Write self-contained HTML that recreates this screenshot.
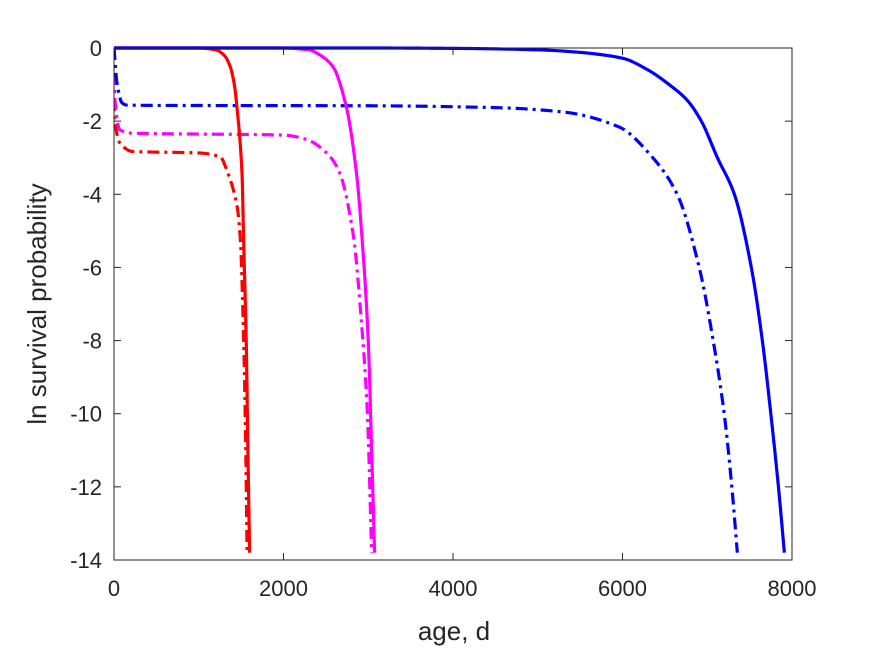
<!DOCTYPE html>
<html><head><meta charset="utf-8"><style>
body{margin:0;background:#fff;}
svg{display:block;font-family:"Liberation Sans",Arial,sans-serif;}
</style></head><body>
<svg id="chart" width="875" height="656" viewBox="0 0 875 656">
<defs><clipPath id="plotclip"><rect x="114" y="46" width="680" height="516"/></clipPath></defs>
<g id="grid"></g>
<g id="series" clip-path="url(#plotclip)"></g>
<g id="axes"></g>
</svg>
<script>
const xTicks=[0,2000,4000,6000,8000];
const yTicks=[0,-2,-4,-6,-8,-10,-12,-14];
const blueSolidAge=[0,1000,2000,3000,4000,5000,5500,6000,6300,6550,6760,6930,7120,7320,7520,7650,7750,7840,7910];
const blueSolidVal=[0,0,0,0,-0.01,-0.05,-0.12,-0.28,-0.6,-1.0,-1.42,-2,-3,-4,-6,-8,-10,-12,-13.8];
const blueDashAge=[0,35,95,150,500,3000,4500,5300,5960,6350,6645,6905,7070,7200,7290,7355];
const blueDashVal=[0,-0.95,-1.5,-1.56,-1.57,-1.58,-1.63,-1.75,-2.16,-2.98,-4,-6,-8,-10,-12,-13.8];
const redSolidAge=[0,1000,1200,1300,1370,1420,1450,1510,1530,1560,1580,1600];
const redSolidVal=[0,0,-0.05,-0.2,-0.5,-1.0,-1.6,-3.4,-5.3,-8,-11,-13.8];
const redDashAge=[0,10,70,220,1000,1250,1340,1450,1490,1530,1555,1570];
const redDashVal=[-1.4,-2.0,-2.6,-2.83,-2.87,-2.97,-3.4,-4.3,-5.2,-8,-11,-13.8];
const magSolidAge=[0,2000,2300,2400,2580,2740,2860,2930,3000,3040,3075];
const magSolidVal=[0,0,-0.05,-0.15,-0.5,-1.6,-3.4,-5.3,-8,-11,-13.8];
const magDashAge=[0,10,70,220,1990,2270,2510,2660,2820,2920,2990,3040];
const magDashVal=[0,-1.4,-2.24,-2.33,-2.38,-2.5,-2.87,-3.4,-5.06,-7.5,-10,-13.8];

const X0=114,X1=792,Y0=48,Y1=560;
const xs=v=>X0+(v-0)/(8000)*(X1-X0);
const ys=v=>Y0+(0-v)/14*(Y1-Y0);
const NS="http://www.w3.org/2000/svg";
function mk(tag,attrs,parent){const e=document.createElementNS(NS,tag);for(const k in attrs)e.setAttribute(k,attrs[k]);parent.appendChild(e);return e;}

function monoPath(ax,ay){
  const n=ax.length;
  const d=[],m=new Array(n);
  for(let i=0;i<n-1;i++)d.push((ay[i+1]-ay[i])/(ax[i+1]-ax[i]));
  m[0]=d[0];m[n-1]=d[n-2];
  for(let i=1;i<n-1;i++){m[i]=(d[i-1]*d[i]<=0)?0:2/(1/d[i-1]+1/d[i]);}
  let s="M"+xs(ax[0]).toFixed(2)+","+ys(ay[0]).toFixed(2);
  for(let i=0;i<n-1;i++){
    const h=ax[i+1]-ax[i];
    for(let k=1;k<=20;k++){
      const t=k/20,t2=t*t,t3=t2*t;
      const v=(2*t3-3*t2+1)*ay[i]+(t3-2*t2+t)*h*m[i]+(-2*t3+3*t2)*ay[i+1]+(t3-t2)*h*m[i+1];
      s+=" L"+xs(ax[i]+t*h).toFixed(2)+","+ys(v).toFixed(2);
    }
  }
  return s;
}
const sg=document.getElementById('series');
function addSeries(name,ax,ay,color,dash){
  const p=mk('path',{d:monoPath(ax,ay),fill:'none',stroke:color,'stroke-width':3.2,'stroke-linejoin':'round'},sg);
  if(dash)p.setAttribute('stroke-dasharray','12 5 3 5');
  
  
}
addSeries('line-red-dashdot',redDashAge,redDashVal,'#ff0000',true);
addSeries('line-magenta-dashdot',magDashAge,magDashVal,'#ff00ff',true);
addSeries('line-blue-dashdot',blueDashAge,blueDashVal,'#0000ff',true);
addSeries('line-red-solid',redSolidAge,redSolidVal,'#ff0000',false);
addSeries('line-magenta-solid',magSolidAge,magSolidVal,'#ff00ff',false);
addSeries('line-blue-solid',blueSolidAge,blueSolidVal,'#0000ff',false);

const ag=document.getElementById('axes');
const box=mk('rect',{x:X0,y:Y0,width:X1-X0,height:Y1-Y0,fill:'none',stroke:'#262626','stroke-width':1},ag);


xTicks.forEach(v=>{
  const x=xs(v);
  mk('line',{x1:x,y1:Y1,x2:x,y2:Y1-7,stroke:'#262626'},ag);
  mk('line',{x1:x,y1:Y0,x2:x,y2:Y0+7,stroke:'#262626'},ag);
  const t=mk('text',{x:x,y:Y1+36,'text-anchor':'middle','font-size':22,fill:'#262626'},ag);
  t.textContent=v;
  
  
});
yTicks.forEach(v=>{
  const y=ys(v);
  mk('line',{x1:X0,y1:y,x2:X0+7,y2:y,stroke:'#262626'},ag);
  mk('line',{x1:X1,y1:y,x2:X1-7,y2:y,stroke:'#262626'},ag);
  const t=mk('text',{x:X0-12,y:y+8,'text-anchor':'end','font-size':22,fill:'#262626'},ag);
  t.textContent=v;
  
  
});
const xt=mk('text',{x:454,y:640,'text-anchor':'middle','font-size':26,fill:'#262626'},ag);
xt.textContent='age, d';


const yt=mk('text',{x:0,y:0,'text-anchor':'middle','font-size':26,fill:'#262626',transform:'translate(46,304) rotate(-90)'},ag);
yt.textContent='ln survival probability';


</script>
</body></html>
